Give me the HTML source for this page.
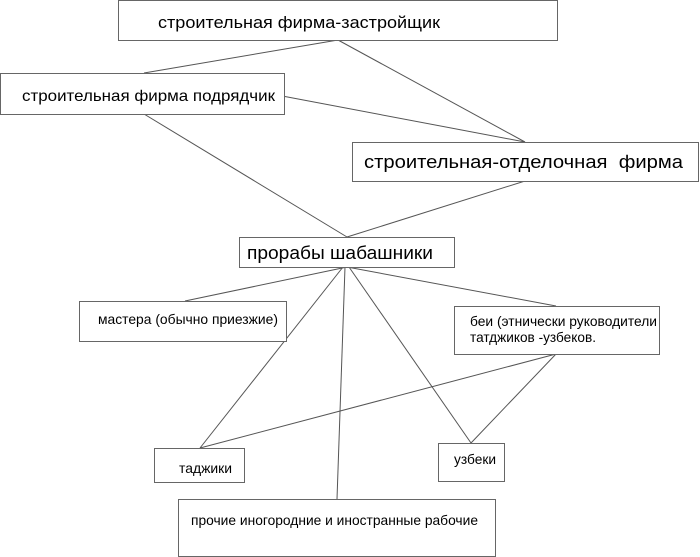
<!DOCTYPE html>
<html><head><meta charset="utf-8"><style>
html,body{margin:0;padding:0;background:#fff;}
svg{display:block;}
text{font-family:"Liberation Sans",sans-serif;fill:#000;white-space:pre;}
</style></head><body>
<svg width="700" height="557" viewBox="0 0 700 557" xmlns="http://www.w3.org/2000/svg">
<g fill="none" stroke="#555" stroke-width="1">
<line x1="338" y1="40" x2="144" y2="73"/>
<line x1="338" y1="40" x2="525" y2="142"/>
<line x1="277" y1="95" x2="525" y2="142"/>
<line x1="144" y1="114" x2="347" y2="237"/>
<line x1="525" y1="181" x2="347" y2="237"/>
<line x1="347" y1="267" x2="185" y2="301"/>
<line x1="347" y1="267" x2="556" y2="306"/>
<line x1="343" y1="267" x2="200" y2="448"/>
<line x1="345" y1="267" x2="337" y2="499"/>
<line x1="349" y1="267" x2="471" y2="443"/>
<line x1="556" y1="354" x2="200" y2="448"/>
<line x1="556" y1="354" x2="471" y2="443"/>
</g>
<g fill="#fff" stroke="#666" stroke-width="1">
<rect x="118.5" y="0.5" width="439" height="40"/>
<rect x="0.5" y="73.5" width="284" height="41"/>
<rect x="352.5" y="142.5" width="346" height="39"/>
<rect x="239.5" y="237.5" width="215" height="30"/>
<rect x="79.5" y="301.5" width="207" height="40"/>
<rect x="454.5" y="306.5" width="205" height="48"/>
<rect x="154.5" y="448.5" width="90" height="34"/>
<rect x="438.5" y="443.5" width="66" height="38"/>
<rect x="178.5" y="499.5" width="317" height="57"/>
</g>
<text x="158" y="28" font-size="17" textLength="282" lengthAdjust="spacingAndGlyphs">строительная фирма-застройщик</text>
<text x="22" y="101" font-size="16" textLength="253" lengthAdjust="spacingAndGlyphs">строительная фирма подрядчик</text>
<text x="364" y="168" font-size="18" textLength="319" lengthAdjust="spacingAndGlyphs" xml:space="preserve">строительная-отделочная  фирма</text>
<text x="247" y="259" font-size="18" textLength="186" lengthAdjust="spacingAndGlyphs">прорабы шабашники</text>
<text x="98" y="324" font-size="14" textLength="180" lengthAdjust="spacingAndGlyphs">мастера (обычно приезжие)</text>
<text x="470" y="326" font-size="14" textLength="187" lengthAdjust="spacingAndGlyphs">беи (этнически руководители</text>
<text x="470" y="342" font-size="14" textLength="126" lengthAdjust="spacingAndGlyphs">татджиков -узбеков.</text>
<text x="179" y="473" font-size="14" textLength="53" lengthAdjust="spacingAndGlyphs">таджики</text>
<text x="454" y="464" font-size="14" textLength="42" lengthAdjust="spacingAndGlyphs">узбеки</text>
<text x="191" y="525" font-size="14" textLength="287" lengthAdjust="spacingAndGlyphs">прочие иногородние и иностранные рабочие</text>
</svg>
</body></html>
